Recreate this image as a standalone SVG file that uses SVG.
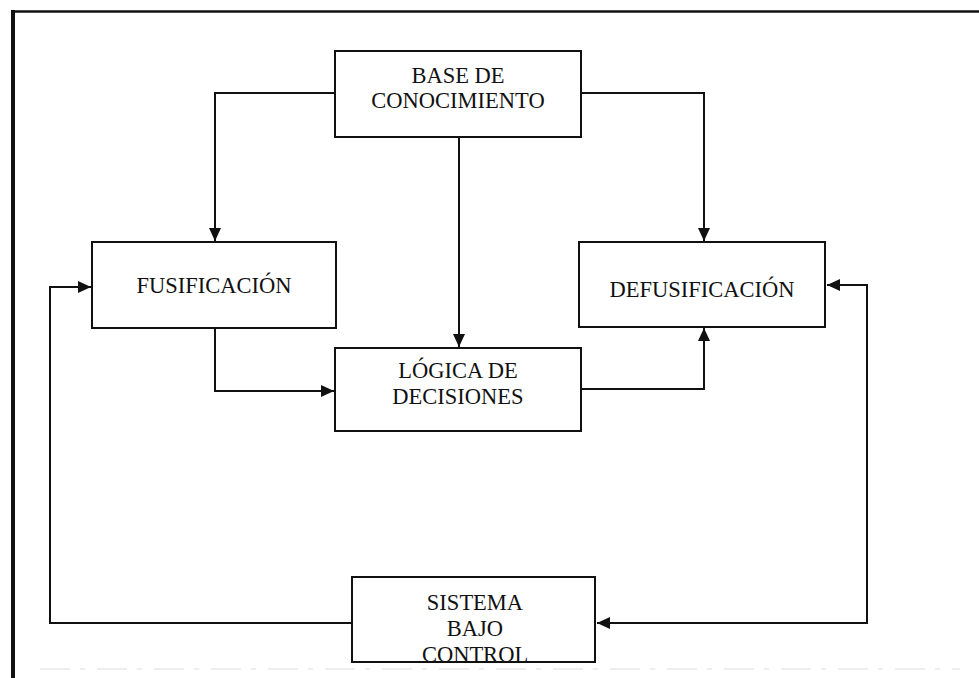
<svg xmlns="http://www.w3.org/2000/svg" width="979" height="678" viewBox="0 0 979 678">
<style>
.box{fill:#fff;stroke:#111;stroke-width:2}
.ln{fill:none;stroke:#111;stroke-width:2}
.t{font-family:"Liberation Serif","Times New Roman",serif;font-size:22.5px;fill:#111;text-anchor:middle}
</style>
<defs>
<marker id="ah" viewBox="0 0 13 12" refX="13" refY="6" markerWidth="13" markerHeight="12" markerUnits="userSpaceOnUse" orient="auto-start-reverse">
<path d="M0,0 L13,6 L0,12 Z" fill="#111"/>
</marker>
</defs>
<rect width="979" height="678" fill="#fff"/>
<g id="frame">
<line x1="13" y1="10" x2="13" y2="678" stroke="#111" stroke-width="4"/>
<line x1="11" y1="11.5" x2="979" y2="11.5" stroke="#111" stroke-width="2.5"/>
<line x1="40" y1="669" x2="960" y2="669" stroke="#ddd" stroke-width="1" stroke-dasharray="30 10 5 12"/>
</g>
<g id="connectors">
<path class="ln" d="M335,93 H215 V241" marker-end="url(#ah)"/>
<path class="ln" d="M581,93 H704 V241" marker-end="url(#ah)"/>
<path class="ln" d="M459,137 V347" marker-end="url(#ah)"/>
<path class="ln" d="M215,328 V391 H334" marker-end="url(#ah)"/>
<path class="ln" d="M581,389 H704 V328" marker-end="url(#ah)"/>
<path class="ln" d="M352,623 H50 V287 H91" marker-end="url(#ah)"/>
<path class="ln" d="M827,285 H867 V623 H597" marker-start="url(#ah)" marker-end="url(#ah)"/>
</g>
<g id="base">
<rect class="box" x="335" y="51" width="246" height="86"/>
<text class="t" x="458" y="83">BASE DE</text>
<text class="t" x="458" y="108">CONOCIMIENTO</text>
</g>
<g id="fusificacion">
<rect class="box" x="92" y="242" width="244" height="86"/>
<text class="t" x="214" y="293">FUSIFICACIÓN</text>
</g>
<g id="defusificacion">
<rect class="box" x="579" y="242" width="246" height="85"/>
<text class="t" x="702" y="297">DEFUSIFICACIÓN</text>
</g>
<g id="logica">
<rect class="box" x="335" y="348" width="246" height="83"/>
<text class="t" x="458" y="378">LÓGICA DE</text>
<text class="t" x="458" y="404">DECISIONES</text>
</g>
<g id="sistema">
<rect class="box" x="352" y="577" width="243" height="85"/>
<text class="t" x="475" y="610">SISTEMA</text>
<text class="t" x="475" y="636">BAJO</text>
<text class="t" x="475" y="662">CONTROL</text>
</g>
</svg>
